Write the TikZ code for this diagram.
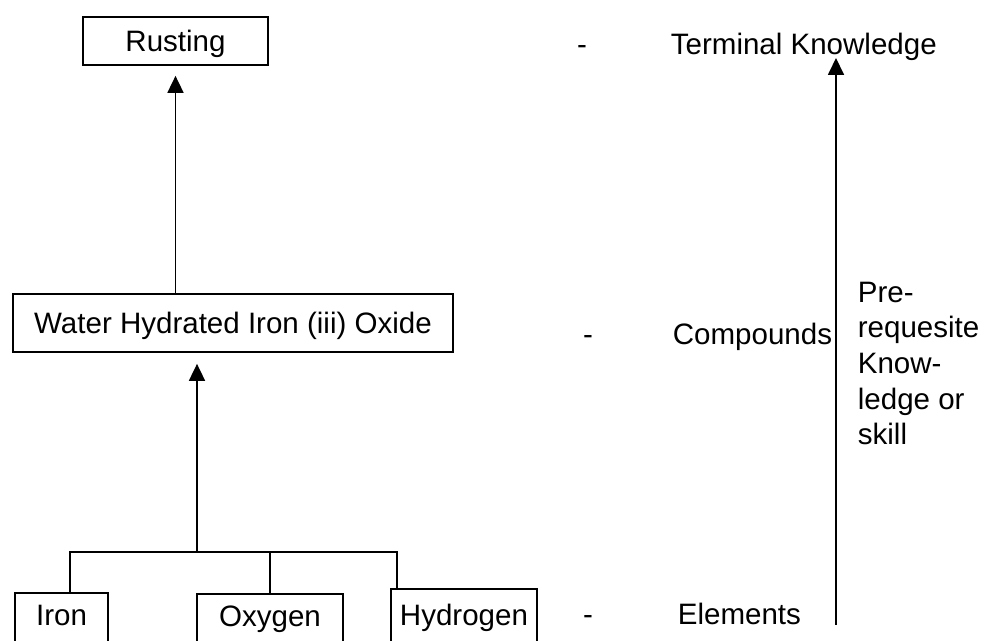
\documentclass[tikz,border=0pt]{standalone}
\usepackage{fontspec}
\setmainfont{Liberation Sans}
\usepackage{tikz}
\usetikzlibrary{arrows.meta,calc,positioning}

\begin{document}
\begin{tikzpicture}[x=1.0cm,y=1.0cm,
    line width=0.5pt,
    every node/.style={font=\fontsize{8.4pt}{10.15pt}\selectfont},
    conc/.style={draw,inner xsep=0pt,inner ysep=0pt,text height=0.21cm,text depth=0cm},
    leaf/.style={draw,anchor=north,inner xsep=0pt,inner ysep=0.12cm,text height=0.21cm,text depth=0.25cm},
    lbl/.style={inner sep=0pt,anchor=base},
    tip/.style={-{Triangle[width=0.16cm,length=0.17cm]}}]
  \useasboundingbox (0,0) rectangle (9.87,6.41);
  % hierarchy of concepts
  \node[conc,minimum width=1.85cm,minimum height=0.48cm] (rust) at (1.755,6.00) {Rusting};
  \node[conc,minimum width=4.40cm,minimum height=0.58cm] (water) at (2.33,3.18) {Water Hydrated Iron (iii) Oxide};
  \node[leaf,minimum width=0.93cm] (iron) at (0.615,0.49) {Iron};
  \node[leaf,minimum width=1.46cm] (oxygen) at (2.70,0.48) {Oxygen};
  \node[leaf,minimum width=1.46cm,text height=0.25cm] (hydrogen) at (4.64,0.53) {Hydrogen};
  \draw[tip,shorten >=0.10cm] (water.north -| rust.south) -- (rust.south);
  \coordinate (join) at (1.97,0.89);
  \coordinate (idrop) at ([xshift=0.085cm]iron.north);
  \coordinate (hdrop) at ([xshift=0.07cm]hydrogen.north west);
  \draw (idrop) |- (join) -| (hdrop);
  \draw (oxygen.north) -- (oxygen.north |- join);
  \draw[tip,shorten >=0.11cm] (join) -- (water.south -| join);
  % levels
  \node[lbl] (dash1) at (5.82,5.86) {-};
  \node[lbl,anchor=base west] (terminal) at (6.70,5.86) {Terminal Knowledge};
  \node[lbl] (dash2) at (5.88,2.96) {-};
  \node[lbl,anchor=base west] (compounds) at (6.72,2.96) {Compounds};
  \node[lbl] (dash3) at (5.88,0.16) {-};
  \node[lbl,anchor=base west] (elements) at (6.77,0.16) {Elements};
  \coordinate (low) at (8.36,0.16);
  \coordinate (high) at (8.36,5.83);
  \draw[tip] (low) -- (high);
  \node[inner sep=0pt,anchor=north west,align=left] (prereq) at (8.57,3.60)
    {Pre-\\requesite\\Know-\\ledge or\\skill};
\end{tikzpicture}
\end{document}
